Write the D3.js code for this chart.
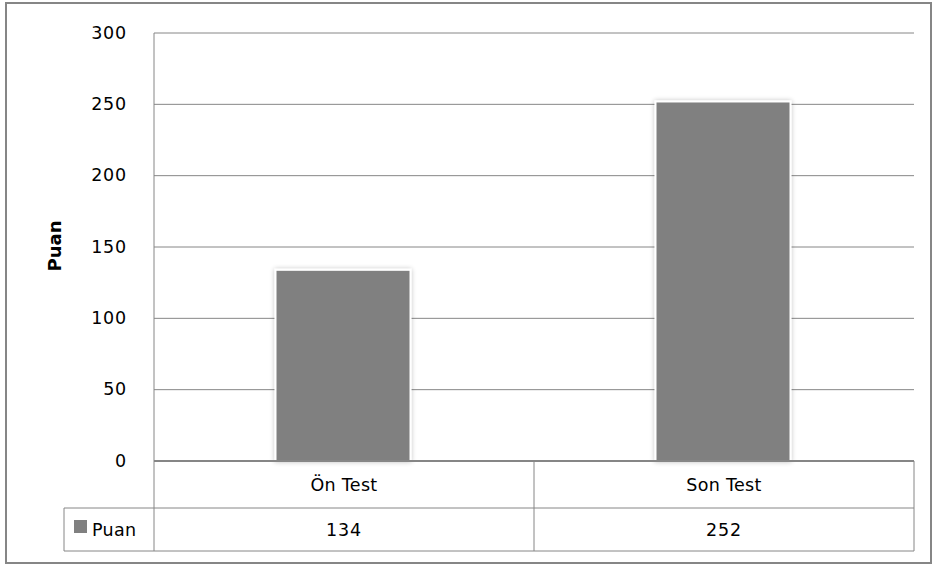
<!DOCTYPE html>
<html><head><meta charset="utf-8">
<script src="https://cdn.jsdelivr.net/npm/d3@7"></script>
<style>body{margin:0;background:#fff}svg{display:block}text{font-family:"DejaVu Sans",sans-serif;fill:#000}</style>
</head><body><svg id="c" width="933" height="565"></svg>
<script>
const categories = ["Ön Test", "Son Test"];
const values = [134, 252];
const seriesName = "Puan";
const yTicks = [0, 50, 100, 150, 200, 250, 300];

const svg = d3.select("#c");
const L = 154, R = 914, T = 33, B = 461;
const row1 = 508, row2 = 551, legendLeft = 64;
const grid = "#868686";
const FONT = "'DejaVu Sans',sans-serif";

svg.append("rect").attr("x",6).attr("y",3).attr("width",925).attr("height",560)
  .attr("fill","#fff").attr("stroke",grid).attr("stroke-width",2);

const x = d3.scaleBand().domain(categories).range([L, R]).paddingInner(0).paddingOuter(0);
const y = d3.scaleLinear().domain([0, 300]).range([B, T]);

// gridlines
svg.append("g").selectAll("line").data(yTicks.filter(d=>d>0)).join("line")
  .attr("x1",L).attr("x2",R).attr("y1",d=>y(d)).attr("y2",d=>y(d))
  .attr("stroke",grid).attr("stroke-width",1);

// y axis labels
const yAxis = d3.axisLeft(y).tickValues(yTicks).tickSize(0).tickPadding(27);
const ga = svg.append("g").attr("transform",`translate(${L},0)`).call(yAxis);
ga.select(".domain").remove();
ga.selectAll("text").style("font-family",FONT).style("font-size","17.5px").attr("fill","#000").attr("dy","0.3em").attr("letter-spacing","0.8px");

// shadow filter
const defs = svg.append("defs");
const f = defs.append("filter").attr("id","sh").attr("x","-20%").attr("y","-20%").attr("width","140%").attr("height","140%");
f.append("feGaussianBlur").attr("in","SourceAlpha").attr("stdDeviation",2.5);
f.append("feComponentTransfer").append("feFuncA").attr("type","linear").attr("slope",0.25);
const m = f.append("feMerge"); m.append("feMergeNode"); m.append("feMergeNode").attr("in","SourceGraphic");

// bars
const bw = 135;
svg.append("g").selectAll("rect").data(values).join("rect")
  .attr("x",(d,i)=>x(categories[i]) + x.bandwidth()/2 - bw/2 - 1)
  .attr("y",d=>y(d))
  .attr("width",bw).attr("height",d=>B - y(d))
  .attr("fill","#808080").attr("stroke","#fff").attr("stroke-width",2)
  .attr("filter","url(#sh)");

// axis line and table
const tl = svg.append("g").attr("stroke",grid).attr("fill","none");
tl.append("line").attr("x1",L).attr("x2",R).attr("y1",B).attr("y2",B).attr("stroke-width",2);
tl.append("line").attr("x1",legendLeft).attr("x2",R).attr("y1",row1).attr("y2",row1);
tl.append("line").attr("x1",legendLeft).attr("x2",R).attr("y1",row2).attr("y2",row2);
tl.append("line").attr("x1",legendLeft).attr("x2",legendLeft).attr("y1",row1).attr("y2",row2);
tl.append("line").attr("x1",L).attr("x2",L).attr("y1",T).attr("y2",row2);
categories.forEach(c=>{
  tl.append("line").attr("x1",x(c)+x.bandwidth()).attr("x2",x(c)+x.bandwidth()).attr("y1",B).attr("y2",row2);
});

// category labels
svg.append("g").selectAll("text").data(categories).join("text")
  .attr("x",d=>x(d)+x.bandwidth()/2).attr("y",(B+row1)/2).attr("dy","0.35em")
  .attr("text-anchor","middle").style("font-size","17.5px").attr("letter-spacing","0.3px").text(d=>d);
// values row
svg.append("g").selectAll("text").data(values).join("text")
  .attr("x",(d,i)=>x(categories[i])+x.bandwidth()/2).attr("y",(row1+row2)/2).attr("dy","0.35em")
  .attr("text-anchor","middle").style("font-size","17.5px").attr("letter-spacing","0.8px").text(d=>d);

// legend
svg.append("rect").attr("x",74).attr("y",520).attr("width",13).attr("height",13).attr("fill","#808080");
svg.append("text").attr("x",92).attr("y",(row1+row2)/2).attr("dy","0.35em").style("font-size","17.5px").attr("letter-spacing","0.3px").text(seriesName);

// y title
svg.append("text").attr("transform",`translate(61,246) rotate(-90)`).attr("text-anchor","middle")
  .style("font-size","18px").style("font-weight","bold").text(seriesName);
</script></body></html>
